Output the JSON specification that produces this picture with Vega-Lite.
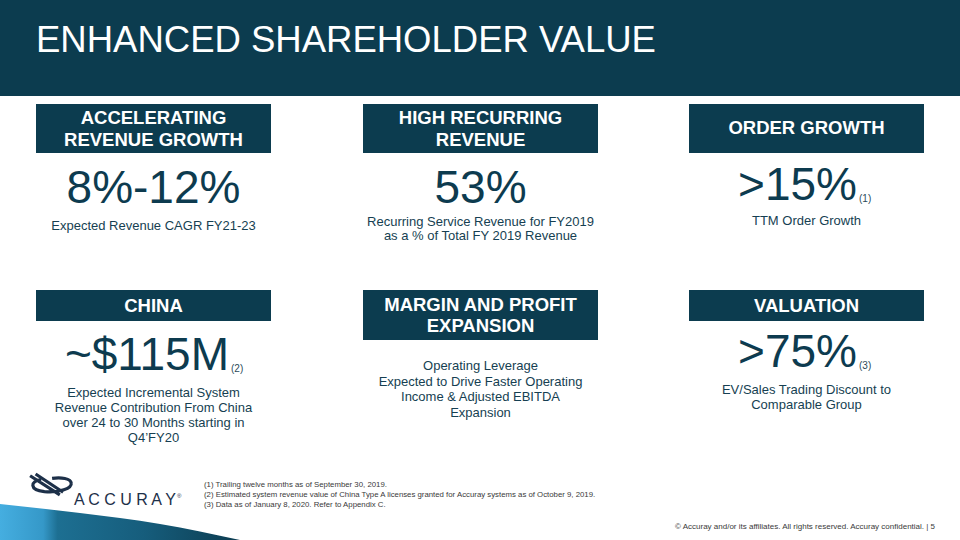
{
  "$schema": "https://vega.github.io/schema/vega-lite/v6.json",
  "width": 960,
  "height": 540,
  "padding": 0,
  "autosize": {"type": "fit", "contains": "padding"},
  "background": "#ffffff",
  "view": {"stroke": null},
  "config": {"font": "Liberation Sans"},
  "datasets": {
    "rects": [
      {"k": "header", "x": 0, "x2": 960, "y": 0, "y2": 96},
      {"k": "box", "x": 36, "x2": 271, "y": 104, "y2": 153},
      {"k": "box", "x": 363, "x2": 598, "y": 104, "y2": 153},
      {"k": "box", "x": 689, "x2": 924, "y": 104, "y2": 153},
      {"k": "box", "x": 36, "x2": 271, "y": 290, "y2": 321},
      {"k": "box", "x": 363, "x2": 598, "y": 290, "y2": 340},
      {"k": "box", "x": 689, "x2": 924, "y": 290, "y2": 321}
    ],
    "wave": [
      {"x": 0, "y": 504, "y2": 540},
      {"x": 80, "y": 513, "y2": 540},
      {"x": 160, "y": 524, "y2": 540},
      {"x": 240, "y": 540, "y2": 540}
    ],
    "logo": [
      {"x": 51, "y": 485}
    ],
    "texts": [
      {"t": "ENHANCED SHAREHOLDER VALUE", "x": 36, "y": 52, "k": "title"},
      {"t": "ACCELERATING", "x": 153.5, "y": 124, "k": "head"},
      {"t": "REVENUE GROWTH", "x": 153.5, "y": 146, "k": "head"},
      {"t": "HIGH RECURRING", "x": 480.5, "y": 124, "k": "head"},
      {"t": "REVENUE", "x": 480.5, "y": 146, "k": "head"},
      {"t": "ORDER GROWTH", "x": 806.5, "y": 134, "k": "head"},
      {"t": "CHINA", "x": 153.5, "y": 312, "k": "head"},
      {"t": "MARGIN AND PROFIT", "x": 480.5, "y": 311, "k": "head"},
      {"t": "EXPANSION", "x": 480.5, "y": 332, "k": "head"},
      {"t": "VALUATION", "x": 806.5, "y": 312, "k": "head"},
      {"t": "8%-12%", "x": 153.5, "y": 203, "k": "big"},
      {"t": "53%", "x": 480.5, "y": 203, "k": "big"},
      {"t": ">15%", "x": 857, "y": 200, "k": "bigR"},
      {"t": "~$115M", "x": 229, "y": 370, "k": "bigR"},
      {"t": ">75%", "x": 857, "y": 367, "k": "bigR"},
      {"t": "(1)", "x": 859, "y": 202, "k": "sup"},
      {"t": "(2)", "x": 231, "y": 372, "k": "sup"},
      {"t": "(3)", "x": 859, "y": 369, "k": "sup"},
      {"t": "Expected Revenue  CAGR FY21-23", "x": 153.5, "y": 230, "k": "sub"},
      {"t": "Recurring Service Revenue for FY2019", "x": 480.5, "y": 226, "k": "sub"},
      {"t": "as a % of Total FY 2019 Revenue", "x": 480.5, "y": 240, "k": "sub"},
      {"t": "TTM Order Growth", "x": 806.5, "y": 225, "k": "sub"},
      {"t": "Expected Incremental System", "x": 153.5, "y": 397, "k": "sub"},
      {"t": "Revenue Contribution From China", "x": 153.5, "y": 412, "k": "sub"},
      {"t": "over 24 to 30 Months starting in", "x": 153.5, "y": 427, "k": "sub"},
      {"t": "Q4’FY20", "x": 153.5, "y": 442, "k": "sub"},
      {"t": "Operating Leverage", "x": 480.5, "y": 370, "k": "sub"},
      {"t": "Expected to Drive Faster Operating", "x": 480.5, "y": 386, "k": "sub"},
      {"t": "Income & Adjusted EBITDA", "x": 480.5, "y": 401, "k": "sub"},
      {"t": "Expansion", "x": 480.5, "y": 417, "k": "sub"},
      {"t": "EV/Sales Trading Discount to", "x": 806.5, "y": 394, "k": "sub"},
      {"t": "Comparable Group", "x": 806.5, "y": 409, "k": "sub"},
      {"t": "(1) Trailing twelve months as of September 30, 2019.", "x": 204, "y": 487, "k": "note"},
      {"t": "(2) Estimated system revenue value of China Type A licenses granted for Accuray systems as of October 9, 2019.", "x": 204, "y": 497, "k": "note"},
      {"t": "(3) Data as of January 8, 2020.  Refer to Appendix C.", "x": 204, "y": 507, "k": "note"},
      {"t": "© Accuray and/or its affiliates. All rights reserved. Accuray confidential.    |    5", "x": 935, "y": 529, "k": "foot"},
      {"t": "A C C U R A Y", "x": 74, "y": 505, "k": "logo"},
      {"t": "®", "x": 177, "y": 498, "k": "reg"}
    ]
  },
  "encoding": {
    "x": {"field": "x", "type": "quantitative", "scale": {"domain": [0, 960], "nice": false, "zero": false}, "axis": null},
    "y": {"field": "y", "type": "quantitative", "scale": {"domain": [0, 540], "nice": false, "zero": false, "reverse": true}, "axis": null}
  },
  "layer": [
    {
      "data": {"name": "rects"},
      "mark": {"type": "rect", "color": "#0c3c4f"},
      "encoding": {"x2": {"field": "x2"}, "y2": {"field": "y2"}}
    },
    {
      "data": {"name": "wave"},
      "mark": {
        "type": "area",
        "interpolate": "monotone",
        "color": {
          "gradient": "linear", "x1": 0, "x2": 1, "y1": 0, "y2": 0,
          "stops": [
            {"offset": 0, "color": "#45aee0"},
            {"offset": 0.18, "color": "#3598c8"},
            {"offset": 0.24, "color": "#1d6f92"},
            {"offset": 0.6, "color": "#165d7c"},
            {"offset": 1, "color": "#0c3c50"}
          ]
        }
      },
      "encoding": {"y2": {"field": "y2"}}
    },
    {
      "data": {"name": "logo"},
      "mark": {
        "type": "point",
        "filled": false,
        "size": 1936,
        "strokeWidth": 3.2,
        "color": "#1d3049",
        "opacity": 1,
        "shape": "M -0.45 -0.25 C -0.95 -0.18 -1.0 0.22 -0.3 0.3 C 0.4 0.36 0.95 0.15 0.92 -0.08 C 0.9 -0.3 0.45 -0.36 0.05 -0.3 M -0.95 -0.42 L 0.4 0.45 M -0.7 -0.5 L 0.55 0.33"
      }
    },
    {
      "data": {"name": "texts"},
      "transform": [{"filter": "datum.k == 'title'"}],
      "mark": {"type": "text", "align": "left", "baseline": "alphabetic", "fontSize": 36.5, "color": "#ffffff"},
      "encoding": {"text": {"field": "t"}}
    },
    {
      "data": {"name": "texts"},
      "transform": [{"filter": "datum.k == 'head'"}],
      "mark": {"type": "text", "align": "center", "baseline": "alphabetic", "fontSize": 18.5, "fontWeight": "bold", "color": "#ffffff"},
      "encoding": {"text": {"field": "t"}}
    },
    {
      "data": {"name": "texts"},
      "transform": [{"filter": "datum.k == 'big'"}],
      "mark": {"type": "text", "align": "center", "baseline": "alphabetic", "fontSize": 46, "color": "#0d3b4f"},
      "encoding": {"text": {"field": "t"}}
    },
    {
      "data": {"name": "texts"},
      "transform": [{"filter": "datum.k == 'bigR'"}],
      "mark": {"type": "text", "align": "right", "baseline": "alphabetic", "fontSize": 46, "color": "#0d3b4f"},
      "encoding": {"text": {"field": "t"}}
    },
    {
      "data": {"name": "texts"},
      "transform": [{"filter": "datum.k == 'sup'"}],
      "mark": {"type": "text", "align": "left", "baseline": "alphabetic", "fontSize": 10, "color": "#2c4a5a"},
      "encoding": {"text": {"field": "t"}}
    },
    {
      "data": {"name": "texts"},
      "transform": [{"filter": "datum.k == 'sub'"}],
      "mark": {"type": "text", "align": "center", "baseline": "alphabetic", "fontSize": 13, "color": "#163f52"},
      "encoding": {"text": {"field": "t"}}
    },
    {
      "data": {"name": "texts"},
      "transform": [{"filter": "datum.k == 'note'"}],
      "mark": {"type": "text", "align": "left", "baseline": "alphabetic", "fontSize": 7.8, "color": "#3a3a3a"},
      "encoding": {"text": {"field": "t"}}
    },
    {
      "data": {"name": "texts"},
      "transform": [{"filter": "datum.k == 'foot'"}],
      "mark": {"type": "text", "align": "right", "baseline": "alphabetic", "fontSize": 8, "color": "#3a3a3a"},
      "encoding": {"text": {"field": "t"}}
    },
    {
      "data": {"name": "texts"},
      "transform": [{"filter": "datum.k == 'logo'"}],
      "mark": {"type": "text", "align": "left", "baseline": "alphabetic", "fontSize": 16, "color": "#1d3049"},
      "encoding": {"text": {"field": "t"}}
    },
    {
      "data": {"name": "texts"},
      "transform": [{"filter": "datum.k == 'reg'"}],
      "mark": {"type": "text", "align": "left", "baseline": "alphabetic", "fontSize": 6, "color": "#1d3049"},
      "encoding": {"text": {"field": "t"}}
    }
  ]
}
